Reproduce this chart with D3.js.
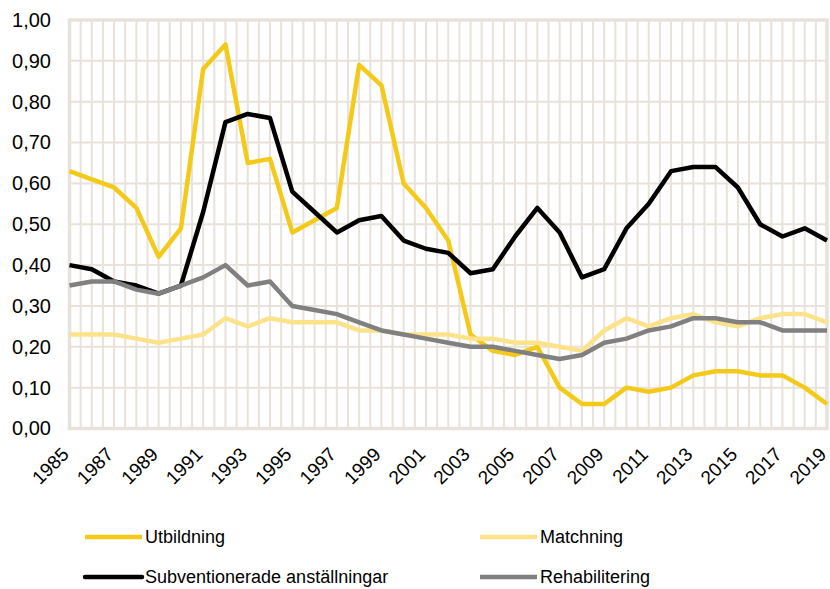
<!DOCTYPE html>
<html lang="sv">
<head>
    <meta charset="UTF-8">
    <title>Program</title>
    <style>
        body {
            margin: 0;
            background-color: #fff;
        }

        svg {
            display: block;
            font-family: "Liberation Sans", Arial, sans-serif;
        }

        .grid line {
            stroke: #e8e2da;
            stroke-width: 2;
        }

        .axis text {
            fill: #000;
        }

        .axis path,
        .axis line {
            display: none;
        }

        path.series {
            fill: none;
            stroke-width: 4.5;
            stroke-linejoin: round;
        }
    </style>
</head>
<body>
    <svg id="chart" width="830" height="589"></svg>

    <script src="https://cdnjs.cloudflare.com/ajax/libs/d3/7.8.5/d3.min.js"></script>
    <script>
        const years = d3.range(1985, 2020);

        const utbildning = [0.63, 0.61, 0.59, 0.54, 0.42, 0.49, 0.88, 0.94, 0.65, 0.66,
            0.48, 0.51, 0.54, 0.89, 0.84, 0.60, 0.54, 0.46, 0.23, 0.19,
            0.18, 0.20, 0.10, 0.06, 0.06, 0.10, 0.09, 0.10, 0.13, 0.14,
            0.14, 0.13, 0.13, 0.10, 0.06];

        const matchning = [0.23, 0.23, 0.23, 0.22, 0.21, 0.22, 0.23, 0.27, 0.25, 0.27,
            0.26, 0.26, 0.26, 0.24, 0.24, 0.23, 0.23, 0.23, 0.22, 0.22,
            0.21, 0.21, 0.20, 0.19, 0.24, 0.27, 0.25, 0.27, 0.28, 0.26,
            0.25, 0.27, 0.28, 0.28, 0.26];

        const subventionerade = [0.40, 0.39, 0.36, 0.35, 0.33, 0.35, 0.53, 0.75, 0.77, 0.76,
            0.58, 0.53, 0.48, 0.51, 0.52, 0.46, 0.44, 0.43, 0.38, 0.39,
            0.47, 0.54, 0.48, 0.37, 0.39, 0.49, 0.55, 0.63, 0.64, 0.64,
            0.59, 0.50, 0.47, 0.49, 0.46];

        const rehabilitering = [0.35, 0.36, 0.36, 0.34, 0.33, 0.35, 0.37, 0.40, 0.35, 0.36,
            0.30, 0.29, 0.28, 0.26, 0.24, 0.23, 0.22, 0.21, 0.20, 0.20,
            0.19, 0.18, 0.17, 0.18, 0.21, 0.22, 0.24, 0.25, 0.27, 0.27,
            0.26, 0.26, 0.24, 0.24, 0.24];

        const seriesNames = ['Utbildning', 'Matchning', 'Subventionerade anställningar', 'Rehabilitering'];
        const seriesColors = ['#f5c918', '#fce38a', '#000000', '#808080'];
        const seriesValues = [utbildning, matchning, subventionerade, rehabilitering];

        const yTicks = d3.range(0, 11).map(i => i / 10);
        const xTickYears = years.filter(y => (y - 1985) % 2 === 0);

        const svg = d3.select('#chart');

        const plot = { left: 69.5, right: 827, top: 20, bottom: 428.5 };

        let x = d3.scaleLinear()
            .domain([1985, 2019])
            .range([plot.left, plot.right]);

        let y = d3.scaleLinear()
            .domain([0, 1])
            .range([plot.bottom, plot.top]);

        // gridlines: horizontal every 0.1, vertical every half year
        let grid = svg.append('g').attr('class', 'grid');
        grid.selectAll('line.h')
            .data(yTicks)
            .enter()
            .append('line')
            .attr('x1', plot.left)
            .attr('x2', plot.right)
            .attr('y1', d => y(d))
            .attr('y2', d => y(d));

        grid.selectAll('line.v')
            .data(d3.range(1985, 2019.01, 0.5))
            .enter()
            .append('line')
            .attr('x1', d => x(d))
            .attr('x2', d => x(d))
            .attr('y1', plot.top)
            .attr('y2', plot.bottom);

        svg.append('rect')
            .attr('x', plot.left)
            .attr('y', plot.top)
            .attr('width', plot.right - plot.left)
            .attr('height', plot.bottom - plot.top)
            .attr('fill', 'none')
            .attr('stroke', '#e8e2da')
            .attr('stroke-width', 3.5);

        // y axis
        let axisValue = d3.axisLeft(y)
            .tickValues(yTicks)
            .tickSize(0)
            .tickPadding(0)
            .tickFormat(d => d3.format('.2f')(d).replace('.', ','));

        svg.append('g')
            .attr('class', 'axis')
            .attr('transform', 'translate(51,0)')
            .call(axisValue)
            .selectAll('text')
            .attr('font-size', 20)
            .attr('font-family', '"Liberation Sans", Arial, sans-serif');

        // x axis, labels at 45 degrees
        let axisTime = d3.axisBottom(x)
            .tickValues(xTickYears)
            .tickSize(0)
            .tickFormat(d3.format('d'));

        svg.append('g')
            .attr('class', 'axis')
            .attr('transform', `translate(0,${plot.bottom})`)
            .call(axisTime)
            .selectAll('text')
            .attr('font-size', 19)
            .attr('font-family', '"Liberation Sans", Arial, sans-serif')
            .attr('dy', null)
            .attr('y', 0)
            .attr('text-anchor', 'end')
            .attr('transform', 'translate(0,27) rotate(-45)');

        // series lines
        let line = d3.line()
            .x((d, i) => x(years[i]))
            .y(d => y(d));

        svg.selectAll('path.series')
            .data(seriesValues)
            .enter()
            .append('path')
            .attr('class', 'series')
            .attr('stroke', (d, i) => seriesColors[i])
            .attr('d', d => line(d));

        // legend
        const legendPos = [[85, 537], [480, 537], [85, 577], [480, 577]];
        let legend = svg.selectAll('g.legend')
            .data(seriesNames)
            .enter()
            .append('g')
            .attr('class', 'legend')
            .attr('transform', (d, i) => `translate(${legendPos[i][0]},${legendPos[i][1]})`);

        legend.append('line')
            .attr('x1', 0)
            .attr('x2', 57)
            .attr('stroke', (d, i) => seriesColors[i])
            .attr('stroke-width', 4.5)
            .attr('stroke-linecap', (d, i) => i === 2 ? 'round' : 'butt');

        legend.append('text')
            .attr('x', 60)
            .attr('y', 5.5)
            .attr('font-size', 18)
            .text(d => d);
    </script>
</body>
</html>
